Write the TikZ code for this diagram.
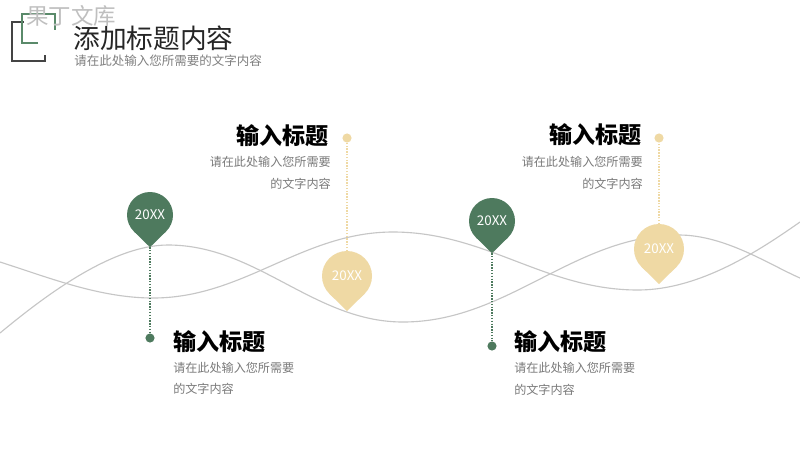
\documentclass[tikz,border=0pt]{standalone}
\usepackage{fontspec}
\setmainfont{Noto Sans CJK SC}
\definecolor{pgreen}{HTML}{4E7A5E}
\definecolor{pyellow}{HTML}{EFD9A4}
\definecolor{wave}{HTML}{C6C6C6}
\definecolor{bodygray}{HTML}{7A7A7A}
\definecolor{darkline}{HTML}{444444}
\definecolor{brgreen}{HTML}{5A8A6A}
\newcommand\drawpin[5]{%
  \fill[#5] (#2,#3) circle[radius=#4];
  \fill[#5] (#2,#3+1.4*#4) -- (#2+0.7*#4,#3+0.714*#4) -- (#2,#3) -- (#2-0.7*#4,#3+0.714*#4) -- cycle;
  \node[pintext] (#1) at (#2,#3) {20XX};
  \coordinate (#1tip) at (#2,#3+1.4*#4);
  \coordinate (#1top) at (#2,#3-#4);
}
\begin{document}
\begin{tikzpicture}[x=0.025cm,y=-0.025cm,
  head/.style={font=\fontsize{16.4pt}{18pt}\selectfont\bfseries, text=black, inner sep=0},
  body/.style={font=\fontsize{8.6pt}{10pt}\selectfont, text=bodygray, inner sep=0},
  pintext/.style={font=\fontsize{9.5pt}{11pt}\selectfont, text=white, inner sep=0},
  wavel/.style={draw=wave, line width=0.8pt},
  gdot/.style={circle, fill=pgreen, inner sep=0, minimum size=6.5pt},
  ydot/.style={circle, fill=pyellow, inner sep=0, minimum size=6.5pt},
  gline/.style={draw=pgreen, line width=0.8pt, dash pattern=on 1pt off 1pt},
  yline/.style={draw=pyellow, line width=0.8pt, dash pattern=on 1pt off 1pt},
  brk/.style={line width=2.1pt}
]
\useasboundingbox (0,0) rectangle (800,450);
\fill[white] (0,0) rectangle (800,450);
% bracket logo
\draw[brk, draw=darkline] (24,22) -- (12,22) -- (12,61) -- (45,61) -- (45,55);
\draw[brk, draw=brgreen] (38,43) -- (22,43) -- (22,14) -- (55,14) -- (55,30);
\node[anchor=west, inner sep=0, text=black!25, font=\fontsize{16pt}{18pt}\selectfont] (wm) at (26,16) {果丁文库};
\node[anchor=west, inner sep=0, text=black!85, font=\fontsize{19pt}{22pt}\selectfont] (title) at (73,38) {添加标题内容};
\node[anchor=west, inner sep=0, text=black!50, font=\fontsize{8.9pt}{10pt}\selectfont] (subtitle) at (74,61) {请在此处输入您所需要的文字内容};
% waves
\draw[wavel] (0,333) .. controls (40,300) and (110,245) .. (168,245)
  .. controls (257,245) and (314,322) .. (403,322)
  .. controls (508,322) and (574,235) .. (679,235)
  .. controls (725,235) and (770,265) .. (800,278);
\draw[wavel] (0,262) .. controls (50,278) and (100,298) .. (153,298)
  .. controls (244,298) and (302,232) .. (393,232)
  .. controls (486,232) and (545,290) .. (638,290)
  .. controls (700,290) and (760,250) .. (800,222);
% pins
\drawpin{p1}{150}{215}{23}{pgreen}
\drawpin{p2}{347}{276}{25}{pyellow}
\drawpin{p3}{492}{221}{23}{pgreen}
\drawpin{p4}{659}{249}{25}{pyellow}
% dots and connectors
\node[gdot] (d1) at (150,338) {};
\node[ydot] (d2) at (347,138) {};
\node[gdot] (d3) at (492,346) {};
\node[ydot] (d4) at (659,138) {};
\draw[gline] (p1tip) -- (d1);
\draw[yline] (p2top) -- (d2);
\draw[gline] (p3tip) -- (d3);
\draw[yline] (p4top) -- (d4);
% text blocks
\node[head, anchor=east] (h2) at (329,136) {输入标题};
\node[body, anchor=east] (b2a) at (331,162) {请在此处输入您所需要};
\node[body, anchor=east] (b2b) at (331,184) {的文字内容};
\node[head, anchor=east] (h4) at (642,135) {输入标题};
\node[body, anchor=east] (b4a) at (643,162) {请在此处输入您所需要};
\node[body, anchor=east] (b4b) at (643,184) {的文字内容};
\node[head, anchor=west] (h1) at (173,342) {输入标题};
\node[body, anchor=west] (b1a) at (173,368) {请在此处输入您所需要};
\node[body, anchor=west] (b1b) at (173,389) {的文字内容};
\node[head, anchor=west] (h3) at (514,342) {输入标题};
\node[body, anchor=west] (b3a) at (514,368) {请在此处输入您所需要};
\node[body, anchor=west] (b3b) at (514,390) {的文字内容};
\end{tikzpicture}
\end{document}
